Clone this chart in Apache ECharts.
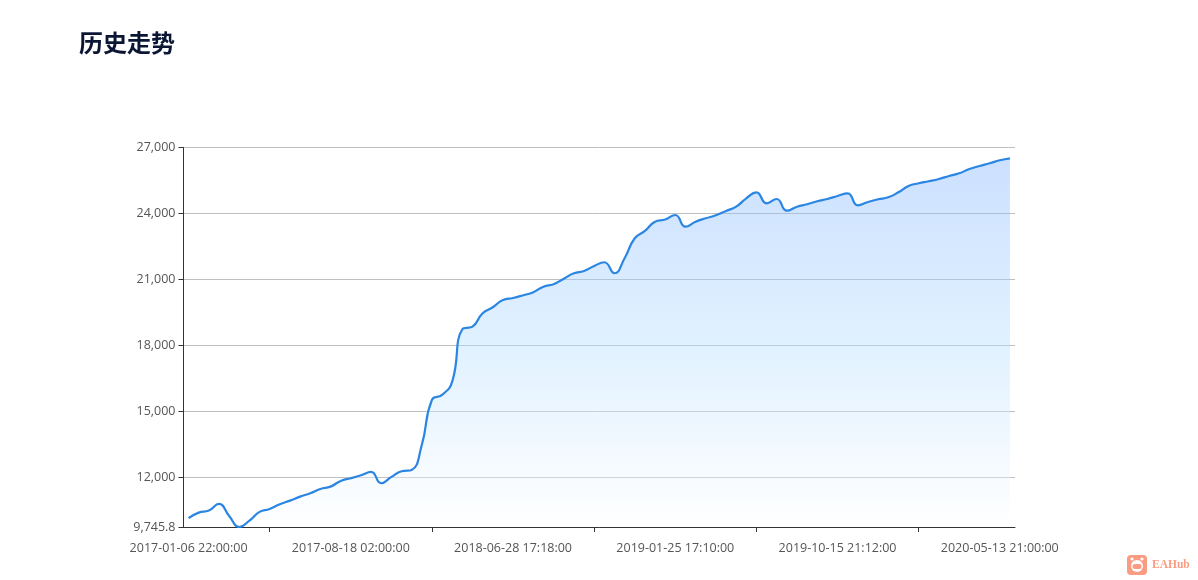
<!DOCTYPE html>
<html><head><meta charset="utf-8">
<style>html,body{margin:0;padding:0;background:#fff}#c{width:1198px;height:580px}</style>
<script src="https://cdn.jsdelivr.net/npm/echarts@6/dist/echarts.min.js"></script>
</head><body><div id="c"></div>
<script>
const titleText = '历史走势';
const tickLabels = ['2017-01-06 22:00:00','2017-08-18 02:00:00','2018-06-28 17:18:00','2019-01-25 17:10:00','2019-10-15 21:12:00','2020-05-13 21:00:00'];
const yTicks = [9745.8,12000,15000,18000,21000,24000,27000];
const values = [10145,10400,10491,10795,10250,9745.8,10036,10432,10568,10782,10945,11127,11282,11477,11582,11841,
11964,12100,12250,11736,12023,12282,12341,13477,15523,15750,16355,18736,18855,19464,19736,20068,
20159,20282,20418,20673,20782,21036,21282,21386,21614,21782,21282,21964,22873,23205,23627,23727,
23932,23400,23627,23782,23918,24114,24309,24691,24964,24464,24659,24127,24309,24418,24555,24659,
24795,24918,24373,24523,24645,24736,24964,25250,25373,25464,25568,25705,25827,26023,26159,26282,
26418,26509];
const labelStep = 16;
const categories = values.map((_, i) => i % labelStep === 0 ? tickLabels[i / labelStep] : String(i));
const font = '"Open Sans","Noto Sans",sans-serif';
const chart = echarts.init(document.getElementById('c'), null, {renderer:'canvas'});
chart.setOption({
  animation:false,
  title:{text:titleText,left:74,top:26,textStyle:{fontFamily:'"Noto Sans CJK SC"',fontSize:24,fontWeight:'bold',color:'#0a1633'}},
  grid:{left:183.5,right:183,top:147.5,bottom:53,containLabel:false},
  xAxis:{type:'category',data:categories,boundaryGap:true,
    axisLine:{lineStyle:{color:'#333',width:1}},
    axisTick:{show:true,alignWithLabel:true,length:5,lineStyle:{color:'#333'},interval:(i)=>i % labelStep === labelStep/2},
    axisLabel:{interval:(i)=>i % labelStep === 0,color:'#555',fontFamily:font,fontSize:12.5,margin:15,hideOverlap:false,showMinLabel:true,showMaxLabel:true},
    splitLine:{show:false}},
  yAxis:{type:'value',min:9745.8,max:27000,
    axisLine:{show:true,lineStyle:{color:'#333',width:1}},
    axisTick:{show:true,length:5,lineStyle:{color:'#333'},customValues:yTicks},
    axisLabel:{color:'#555',fontFamily:font,fontSize:12.5,margin:8,padding:[3,0,0,0],customValues:yTicks},
    splitLine:{show:true,lineStyle:{color:'#c0c0c0',width:1}}},
  series:[{type:'line',data:values,smooth:true,symbol:'none',
    lineStyle:{color:'#2a86e2',width:2.2},
    itemStyle:{color:'#2a86e2'},
    areaStyle:{opacity:0.4,color:new echarts.graphic.LinearGradient(0,0,0,1,[{offset:0,color:'#7fb2ff'},{offset:0.5,color:'#b2dcff'},{offset:1,color:'#ffffff'}])}}],
  graphic:[
    {type:'group',left:1127,top:555,children:[
      {type:'rect',shape:{x:0,y:0,width:20,height:20,r:4},style:{fill:'#fb9c82'}},
      {type:'circle',shape:{cx:10,cy:11,r:6},style:{fill:'#fff'}},
      {type:'circle',shape:{cx:5,cy:4,r:1.6},style:{fill:'#fff'}},
      {type:'circle',shape:{cx:15,cy:4,r:1.6},style:{fill:'#fff'}},
      {type:'rect',shape:{x:5.5,y:9,width:9,height:5,r:2.5},style:{fill:'#fb9c82'}}
    ]},
    {type:'text',left:1152,top:559,style:{text:'EAHub',fill:'#fb9c82',font:'bold 11.5px "Liberation Serif",serif'}}
  ]
});
</script></body></html>
